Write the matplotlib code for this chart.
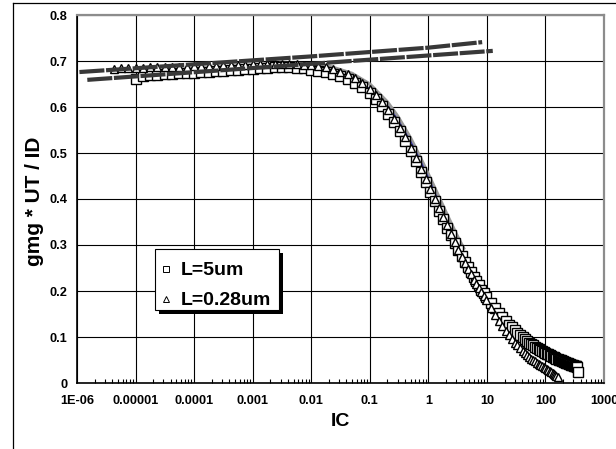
import matplotlib
matplotlib.use("Agg")
import matplotlib.pyplot as plt
from matplotlib.lines import Line2D
from matplotlib.patches import Rectangle
from matplotlib.ticker import FixedLocator, FixedFormatter, LogLocator, NullFormatter

plt.rcParams['font.family'] = ['Liberation Sans', 'DejaVu Sans']
plt.rcParams['font.weight'] = 'bold'

# ---- axis ticks ----
x_ticks = [1e-6, 1e-5, 1e-4, 1e-3, 1e-2, 1e-1, 1, 10, 100, 1000]
x_tick_labels = ["1E-06", "0.00001", "0.0001", "0.001", "0.01", "0.1",
                 "1", "10", "100", "1000"]
y_ticks = [0, 0.1, 0.2, 0.3, 0.4, 0.5, 0.6, 0.7, 0.8]
y_tick_labels = ["0", "0.1", "0.2", "0.3", "0.4", "0.5", "0.6", "0.7", "0.8"]

legend_labels = ["L=5um", "L=0.28um"]

# ---- measured gm*UT/ID versus inversion coefficient, L = 5 um ----
ic_5um = [1.00e-5, 1.33e-5, 1.78e-5, 2.37e-5, 3.16e-5, 4.22e-5, 5.62e-5, 7.50e-5,
          1.00e-4, 1.33e-4, 1.78e-4, 2.37e-4, 3.16e-4, 4.22e-4, 5.62e-4, 7.50e-4,
          1.00e-3, 1.33e-3, 1.78e-3, 2.37e-3, 3.16e-3, 4.22e-3, 5.62e-3, 7.50e-3,
          0.0100, 0.0133, 0.0178, 0.0237, 0.0316, 0.0422, 0.0562, 0.0750,
          0.100, 0.128, 0.163, 0.206, 0.259, 0.324, 0.403, 0.498, 0.611, 0.745,
          0.901, 1.08, 1.29, 1.53, 1.80, 2.11, 2.45, 2.83, 3.24, 3.70,
          4.19, 4.73, 5.31, 5.94, 6.60, 7.31, 8.07, 8.86, 9.71,
          11.6, 13.7, 15.9, 18.4, 21.0, 23.8, 26.8, 30.0, 33.3, 36.9,
          40.6, 44.5, 48.6, 52.9, 57.3, 61.9, 66.8, 71.7, 76.9, 82.3,
          87.8, 93.5, 99.4, 105, 112, 118, 125, 132, 139, 146,
          153, 161, 168, 176, 184, 192, 201, 209, 218, 227,
          236, 246, 255, 265, 275, 285, 295, 305, 316, 327,
          337, 349, 360]
gm_5um = [0.660, 0.668, 0.669, 0.670, 0.671, 0.672, 0.673, 0.674,
          0.675, 0.676, 0.677, 0.678, 0.679, 0.680, 0.681, 0.682,
          0.683, 0.684, 0.685, 0.686, 0.686, 0.686, 0.685, 0.684,
          0.681, 0.679, 0.676, 0.672, 0.668, 0.661, 0.653, 0.643,
          0.630, 0.617, 0.602, 0.585, 0.567, 0.547, 0.526, 0.504, 0.482, 0.459,
          0.437, 0.416, 0.395, 0.375, 0.356, 0.338, 0.321, 0.305, 0.290, 0.277,
          0.264, 0.252, 0.241, 0.230, 0.221, 0.212, 0.203, 0.196, 0.188,
          0.175, 0.163, 0.152, 0.143, 0.135, 0.127, 0.121, 0.115, 0.109, 0.104,
          0.100, 0.096, 0.092, 0.088, 0.085, 0.082, 0.079, 0.077, 0.074, 0.072,
          0.070, 0.068, 0.066, 0.064, 0.062, 0.060, 0.059, 0.057, 0.056, 0.055,
          0.053, 0.052, 0.051, 0.050, 0.049, 0.048, 0.047, 0.046, 0.045, 0.044,
          0.043, 0.043, 0.042, 0.041, 0.040, 0.040, 0.039, 0.038, 0.038, 0.037,
          0.036, 0.034, 0.025]

# ---- measured gm*UT/ID versus inversion coefficient, L = 0.28 um ----
ic_028um = [4.22e-6, 5.62e-6, 7.50e-6,
            1.00e-5, 1.33e-5, 1.78e-5, 2.37e-5, 3.16e-5, 4.22e-5, 5.62e-5, 7.50e-5,
            1.00e-4, 1.33e-4, 1.78e-4, 2.37e-4, 3.16e-4, 4.22e-4, 5.62e-4, 7.50e-4,
            1.00e-3, 1.33e-3, 1.78e-3, 2.37e-3, 3.16e-3, 4.22e-3, 5.62e-3, 7.50e-3,
            0.0100, 0.0133, 0.0178, 0.0237, 0.0316, 0.0422, 0.0562, 0.0750,
            0.100, 0.128, 0.163, 0.206, 0.259, 0.324, 0.403, 0.498, 0.611, 0.745,
            0.901, 1.08, 1.29, 1.53, 1.80, 2.11, 2.45, 2.83, 3.24, 3.70,
            4.19, 4.73, 5.31, 5.94, 6.60, 7.31, 8.07, 8.86, 9.71,
            11.6, 13.7, 15.9, 18.4, 21.0, 23.8, 26.8, 30.0, 33.3, 36.9,
            40.6, 44.5, 48.6, 52.9, 57.3, 61.9, 66.8, 71.7, 76.9, 82.3,
            87.8, 93.5, 99.4, 105, 112, 118, 125, 132, 139, 146,
            153, 161]
gm_028um = [0.683, 0.684, 0.684,
            0.685, 0.685, 0.686, 0.686, 0.687, 0.687, 0.688, 0.688,
            0.689, 0.689, 0.690, 0.690, 0.691, 0.691, 0.692, 0.692,
            0.693, 0.693, 0.694, 0.694, 0.694, 0.694, 0.693, 0.692,
            0.691, 0.689, 0.686, 0.682, 0.677, 0.671, 0.663, 0.652,
            0.639, 0.626, 0.611, 0.594, 0.575, 0.555, 0.534, 0.511, 0.489, 0.466,
            0.444, 0.422, 0.401, 0.380, 0.361, 0.343, 0.324, 0.307, 0.290, 0.275,
            0.261, 0.248, 0.236, 0.225, 0.215, 0.206, 0.197, 0.189, 0.181,
            0.163, 0.148, 0.135, 0.124, 0.113, 0.104, 0.096, 0.088, 0.082, 0.076,
            0.070, 0.065, 0.061, 0.057, 0.053, 0.050, 0.047, 0.044, 0.041, 0.039,
            0.036, 0.034, 0.032, 0.030, 0.028, 0.026, 0.024, 0.022, 0.020, 0.018,
            0.016, 0.014]

# ---- model curves ----
ic_model_blue = [1e-5, 1e-4, 1e-3, 3e-3, 0.01, 0.02, 0.05, 0.1, 0.2, 0.3, 0.5, 0.7,
                 1.0, 1.5, 2.0, 3.0, 4.0, 5.0, 6.5, 8.0, 10.0]
gm_model_blue = [0.668, 0.673, 0.678, 0.680, 0.680, 0.676, 0.662, 0.640, 0.603, 0.573,
                 0.525, 0.489, 0.447, 0.395, 0.355, 0.298, 0.260, 0.228, 0.203, 0.185, 0.170]
ic_model_grey = [3e-3, 0.01, 0.02, 0.05, 0.1, 0.2, 0.3, 0.5, 0.7, 1.0, 1.5, 2.0, 3.0, 4.0]
gm_model_grey = [0.695, 0.694, 0.689, 0.673, 0.650, 0.611, 0.580, 0.532, 0.495, 0.454,
                 0.406, 0.371, 0.324, 0.293]

# ---- weak-inversion asymptotes ----
ic_asym_a = [1.1e-6, 0.01, 1.0, 8.3]
gm_asym_a = [0.676, 0.710, 0.729, 0.741]
ic_asym_b = [1.5e-6, 12.6]
gm_asym_b = [0.659, 0.722]

W, H = 616, 449
fig = plt.figure(figsize=(W / 100, H / 100), dpi=100)
ax = fig.add_axes([77 / W, 1 - 383 / H, 527 / W, 368 / H])


def px(x, y):
    """Pixel position (from the top-left corner) to figure fraction."""
    return x / W, 1 - y / H


ax.set_xscale('log')
ax.set_xlim(1e-6, 1e3)
ax.set_ylim(0, 0.8)

ax.xaxis.set_major_locator(FixedLocator(x_ticks))
ax.xaxis.set_major_formatter(FixedFormatter(x_tick_labels))
ax.xaxis.set_minor_locator(LogLocator(base=10, subs=range(2, 10), numticks=20))
ax.xaxis.set_minor_formatter(NullFormatter())
ax.yaxis.set_major_locator(FixedLocator(y_ticks))
ax.yaxis.set_major_formatter(FixedFormatter(y_tick_labels))

ax.grid(True, which='major', color='black', linewidth=0.8)
ax.set_axisbelow(True)

ax.tick_params(axis='x', which='major', length=0, pad=9, labelsize=9.2)
ax.tick_params(axis='x', which='minor', direction='in', length=3, width=0.8, color='black')
ax.tick_params(axis='y', which='major', length=0, pad=7, labelsize=9.2)
for lab in ax.get_xticklabels() + ax.get_yticklabels():
    lab.set_fontweight('bold')

for side in ('left', 'bottom'):
    ax.spines[side].set_color('black')
    ax.spines[side].set_linewidth(1.2)
for side in ('top', 'right'):
    ax.spines[side].set_color('#8c8c8c')
    ax.spines[side].set_linewidth(1.6)

# model curves under the markers
ax.plot(ic_model_grey, gm_model_grey, color='#9a9a9a', linewidth=2.4, zorder=2)
ax.plot(ic_model_blue, gm_model_blue, color='#3a3ab0', linewidth=1.0, zorder=2.1)

# measured points
ax.plot(ic_5um, gm_5um, linestyle='none', marker='s', markersize=6.5,
        markerfacecolor='white', markeredgecolor='black', markeredgewidth=1.0, zorder=3)
ax.plot(ic_028um, gm_028um, linestyle='none', marker='^', markersize=6.2,
        markerfacecolor='white', markeredgecolor='black', markeredgewidth=1.0, zorder=3.1)

# asymptotes
for xs, ys in ((ic_asym_a, gm_asym_a), (ic_asym_b, gm_asym_b)):
    ax.plot(xs, ys, color='#383838', linewidth=3.0, linestyle=(0, (6.0, 0.4)),
            solid_capstyle='butt', dash_capstyle='butt', zorder=4)

# legend box with a solid drop shadow
bx0, by0, bx1, by1 = 155, 249, 279, 310
sx, sy = px(bx0 + 4, by1 + 4)
fig.add_artist(Rectangle((sx, sy), (bx1 - bx0) / W, (by1 - by0) / H,
                         transform=fig.transFigure, facecolor='black',
                         edgecolor='none', zorder=5))
lx, ly = px(bx0, by1)
fig.add_artist(Rectangle((lx, ly), (bx1 - bx0) / W, (by1 - by0) / H,
                         transform=fig.transFigure, facecolor='white',
                         edgecolor='black', linewidth=0.8, zorder=6))
legend_markers = ['s', '^']
row_baselines = [275, 305]
for marker, label, base in zip(legend_markers, legend_labels, row_baselines):
    mx, my = px(166, base - 6.5)
    fig.add_artist(Line2D([mx], [my], transform=fig.transFigure, linestyle='none',
                          marker=marker, markersize=4.5, markerfacecolor='white',
                          markeredgecolor='black', markeredgewidth=0.7, zorder=7))
    tx, ty = px(181, base)
    fig.text(tx, ty, label, ha='left', va='baseline', fontsize=14,
             fontweight='bold', zorder=7)

fig.text(*px(35, 201), 'gmg * UT / ID', rotation=90, ha='center', va='center',
         fontsize=15, fontweight='bold')
fig.text(*px(340, 421), 'IC', ha='center', va='center',
         fontsize=14, fontweight='bold')

# outer chart frame
fig.add_artist(Line2D([13 / W, 1.0], [1 - 3 / H, 1 - 3 / H], color='black', linewidth=0.9))
fig.add_artist(Line2D([13 / W, 13 / W], [0.0, 1 - 3 / H], color='black', linewidth=0.9))

fig.savefig('out.png', dpi=100)
